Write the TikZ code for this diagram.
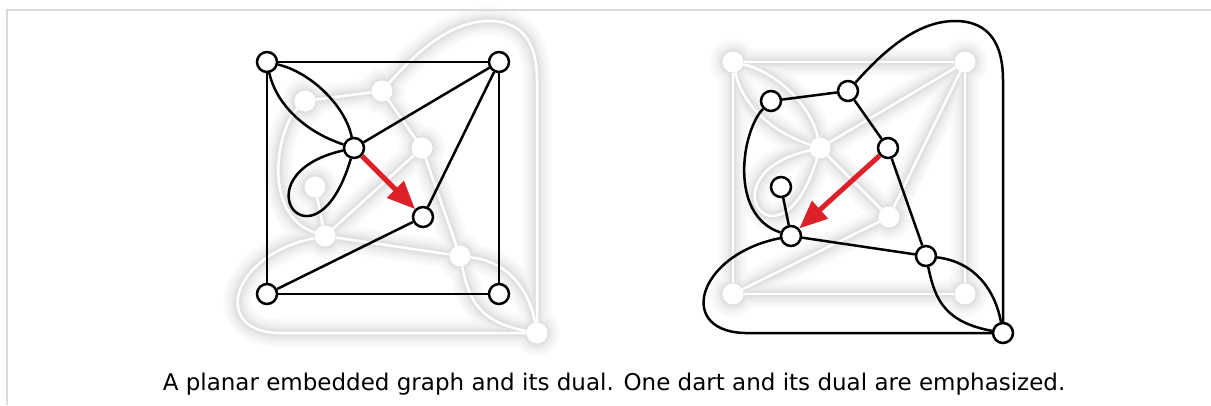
\documentclass[tikz,border=0pt]{standalone}
\usepackage{fontspec}
\setmainfont{DejaVu Sans}
\usetikzlibrary{arrows.meta}
\pgfdeclarelayer{glow}
\pgfdeclarelayer{wedge}
\pgfdeclarelayer{wnodes}
\pgfsetlayers{glow,wedge,wnodes,main}
\definecolor{dartred}{RGB}{220,34,40}
\definecolor{framegray}{RGB}{218,218,218}
\tikzset{
  bnode/.style={circle, draw=black, fill=white, line width=2.5pt, minimum size=20pt, inner sep=0pt},
  wnode/.style={circle, fill=white, minimum size=21pt, inner sep=0pt},
  bedge/.style={draw=black, line width=2.5pt},
  wline/.style={draw=white, line width=2.5pt},
  glowa/.style={draw=black!2, line width=28pt, line cap=round},
  glowb/.style={draw=black!3.5, line width=23pt, line cap=round},
  glowc/.style={draw=black!5, line width=18pt, line cap=round},
  glowd/.style={draw=black!7, line width=14pt, line cap=round},
  glowe/.style={draw=black!9.5, line width=10pt, line cap=round},
  glowf/.style={draw=black!12, line width=6.5pt, line cap=round},
  dartarrow/.style={draw=dartred, line width=5pt, -{Triangle[length=28pt,width=23pt]}},
}
% primal graph (left coordinates); #1 prefix, #2 edge style, #3 dart style
\newcommand\primaledges[3]{%
  \path[#2] (#1a) -- (#1b);
  \path[#2] (#1a) -- (#1c);
  \path[#2] (#1b) -- (#1d);
  \path[#2] (#1c) -- (#1d);
  \path[#2] (#1a) .. controls (310,72) and (345,105) .. (#1e);
  \path[#2] (#1a) .. controls (275,100) and (300,130) .. (#1e);
  \path[#2] (#1e) .. controls (235,175) and (315,280) .. (#1e);
  \path[#2] (#1e) -- (#1b);
  \path[#2] (#1f) -- (#1b);
  \path[#2] (#1f) -- (#1c);
  \path[#3] (#1e) -- (#1f);
}
% dual graph (left coordinates)
\newcommand\dualedges[3]{%
  \path[#2] (#1a) -- (#1b);
  \path[#2] (#1a) .. controls (276,130) and (262,215) .. (#1e);
  \path[#2] (#1e) -- (#1d);
  \path[#2] (#1e) -- (#1f);
  \path[#2] (#1e) .. controls (229,255) and (209,335) .. (284,333) -- (#1g);
  \path[#2] (#1f) .. controls (509,262) and (529,290) .. (#1g);
  \path[#2] (#1f) .. controls (469,300) and (479,322) .. (#1g);
  \path[#2] (#1b) -- (#1c);
  \path[#2] (#1b) .. controls (414,55) and (449,21) .. (489,21) .. controls (524,21) and (537,45) .. (537,80) -- (#1g);
  \path[#2] (#1c) -- (#1f);
  \path[#3] (#1c) -- (#1e);
}
\newcommand\glowpass[3]{%
  \dualedges{q}{#1}{#1}
  \begin{scope}[xshift=466pt]\primaledges{r}{#1}{#1}\end{scope}
  \foreach \n in {qa,qb,qc,qd,qe,qf,qg,ra,rb,rc,rd,re,rf} {\fill[#2] (\n) circle (#3);}
}
\begin{document}
\begin{tikzpicture}[x=1pt,y=-1pt]
\useasboundingbox (0,0) rectangle (1211,405);
\coordinate (f1) at (1211,10);
\coordinate (f2) at (7,10);
\coordinate (f3) at (7,405);
\draw[framegray, line width=2pt] (f1) -- (f2) -- (f3);

% left picture: primal (black), dual (white)
\node[bnode] (pa) at (267,62) {};
\node[bnode] (pb) at (499,62) {};
\node[bnode] (pc) at (267,294) {};
\node[bnode] (pd) at (499,294) {};
\node[bnode] (pe) at (354,148) {};
\node[bnode] (pf) at (423,217) {};
\begin{pgfonlayer}{wnodes}
\node[wnode] (qa) at (305,101) {};
\node[wnode] (qb) at (382,91) {};
\node[wnode] (qc) at (422,148) {};
\node[wnode] (qd) at (315,187) {};
\node[wnode] (qe) at (325,236) {};
\node[wnode] (qf) at (460,256) {};
\node[wnode] (qg) at (537,333) {};
\end{pgfonlayer}

% right picture: primal (white), dual (black)
\begin{scope}[xshift=466pt]
\begin{pgfonlayer}{wnodes}
\node[wnode] (ra) at (267,62) {};
\node[wnode] (rb) at (499,62) {};
\node[wnode] (rc) at (267,294) {};
\node[wnode] (rd) at (499,294) {};
\node[wnode] (re) at (354,148) {};
\node[wnode] (rf) at (423,217) {};
\end{pgfonlayer}
\node[bnode] (sa) at (305,101) {};
\node[bnode] (sb) at (382,91) {};
\node[bnode] (sc) at (422,148) {};
\node[bnode] (sd) at (315,187) {};
\node[bnode] (se) at (325,236) {};
\node[bnode] (sf) at (460,256) {};
\node[bnode] (sg) at (537,333) {};
\end{scope}

% glow
\begin{pgfonlayer}{glow}
\glowpass{glowa}{black!2}{23}
\glowpass{glowb}{black!3.5}{20.5}
\glowpass{glowc}{black!5}{18}
\glowpass{glowd}{black!7}{16}
\glowpass{glowe}{black!9.5}{14}
\glowpass{glowf}{black!12}{12.5}
\end{pgfonlayer}

% white lines
\begin{pgfonlayer}{wedge}
\dualedges{q}{wline}{wline}
\begin{scope}[xshift=466pt]\primaledges{r}{wline}{wline}\end{scope}
\end{pgfonlayer}

% black lines and darts
\primaledges{p}{bedge}{dartarrow}
\begin{scope}[xshift=466pt]\dualedges{s}{bedge}{dartarrow}\end{scope}

\node[font=\fontsize{23}{28}\selectfont, inner sep=0pt] (cap) at (614,384)
  {A planar embedded graph and its dual. One dart and its dual are emphasized.};
\end{tikzpicture}
\end{document}
